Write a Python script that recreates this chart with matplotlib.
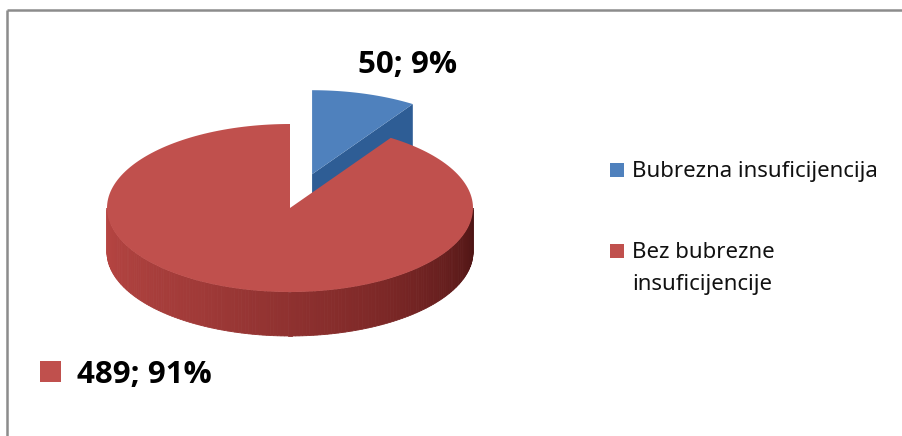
import matplotlib.pyplot as plt
import numpy as np
from matplotlib.patches import Polygon, Rectangle
from matplotlib.colors import LinearSegmentedColormap

labels = ['Bubrezna insuficijencija', 'Bez bubrezne\ninsuficijencije']
values = [50, 489]
top_colors = ['#4f81bd', '#c0504d']
cut_colors = ['#2e5d95', '#8a2f2e']
explode = [0.42, 0.0]

W, H = 902, 436
fig = plt.figure(figsize=(W / 100, H / 100), dpi=100)
ax = fig.add_axes([0, 0, 1, 1])
ax.set_xlim(0, W)
ax.set_ylim(H, 0)
ax.axis('off')

# geometry of the fake 3D pie (pixels)
cx, cy = 290, 208
rx, ry = 183, 84
depth = 44
bold_font = ['Open Sans', 'DejaVu Sans']
font = ['Noto Sans', 'DejaVu Sans']

fracs = np.array(values) / sum(values)
ends = 90 - 360 * np.cumsum(fracs)
starts = np.concatenate([[90], ends[:-1]])


def rim(a, dx=0.0, dy=0.0):
    t = np.radians(a)
    return np.column_stack([cx + dx + rx * np.cos(t), cy + dy - ry * np.sin(t)])


side_cmap = LinearSegmentedColormap.from_list(
    'side', ['#b84643', '#a03a38', '#7d2827', '#4c1414'])

offsets = []
for i in range(len(values)):
    mid = np.radians((starts[i] + ends[i]) / 2)
    offsets.append((explode[i] * rx * np.cos(mid), -explode[i] * ry * np.sin(mid)))

# back slice (blue) first, then the big red one
for i in [0, 1]:
    a0, a1 = starts[i], ends[i]
    dx, dy = offsets[i]
    apex = np.array([cx + dx, cy + dy])
    # radial cut face at the clockwise edge of the small slice
    if i == 0:
        p = rim([a1], dx, dy)[0]
        quad = [apex, p, p + [0, depth], apex + [0, depth]]
        ax.add_patch(Polygon(quad, closed=True, fc=cut_colors[i], ec='none', zorder=2))
    # outer curved side, front half only
    lo, hi = max(a1, -180), min(a0, 0)
    if hi > lo:
        angs = np.linspace(lo, hi, 160)
        for k in range(len(angs) - 1):
            seg = rim(angs[k:k + 2], dx, dy)
            poly = np.vstack([seg, seg[::-1] + [0, depth]])
            c = side_cmap((180 + angs[k]) / 180)
            ax.add_patch(Polygon(poly, closed=True, fc=c, ec=c, lw=0.6, zorder=3 + 3 * i))
    # top face
    arc = rim(np.linspace(a0, a1, 200), dx, dy)
    ax.add_patch(Polygon(np.vstack([apex, arc]), closed=True, fc=top_colors[i],
                         ec='none', zorder=4 + 3 * i))

# data labels
pcts = [f'{v}; {round(100 * f)}%' for v, f in zip(values, fracs)]
ax.text(408, 73, pcts[0], fontsize=22.5, fontweight='bold', family=bold_font,
        ha='center', va='baseline', zorder=10)
ax.add_patch(Rectangle((40, 361), 21, 21, fc=top_colors[1], ec='none'))
ax.text(77, 383, pcts[1], fontsize=22.5, fontweight='bold', family=bold_font,
        ha='left', va='baseline', zorder=10)

# legend
legend_y = [177, 258]
for i, lab in enumerate(labels):
    y = legend_y[i]
    ax.add_patch(Rectangle((610, y - 14), 14, 14, fc=top_colors[i], ec='none'))
    for j, line in enumerate(lab.split('\n')):
        ax.text(632, y + 32 * j, line, fontsize=16, family=font, ha='left',
                va='baseline', color='#111111')

# frame (only top and left edge visible)
ax.plot([6.5, W], [10, 10], color='#8c8c8c', lw=1.8, solid_capstyle='butt')
ax.plot([6.5, 6.5], [10, H], color='#8c8c8c', lw=1.8, solid_capstyle='butt')

fig.savefig('out.png', dpi=100)
